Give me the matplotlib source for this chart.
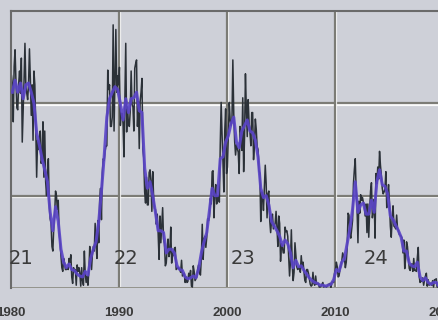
import numpy as np
import matplotlib
matplotlib.use("Agg")
import matplotlib.pyplot as plt
import matplotlib.patheffects as pe

# monthly sunspot number, one row per year (Jan..Dec), 1980-2019
monthly = [
    [230, 221, 180, 240, 258, 224, 195, 193, 221, 235, 211, 249],  # 1980
    [158, 191, 225, 265, 219, 211, 204, 221, 259, 226, 187, 220],
    [160, 235, 220, 175, 120, 160, 150, 155, 170, 135, 140, 180],
    [120, 170, 115, 100, 125, 140, 90, 75, 70, 45, 40, 65],
    [80, 105, 100, 85, 95, 60, 50, 35, 22, 18, 32, 27],
    [20, 20, 22, 20, 32, 28, 36, 12, 5, 22, 18, 20],  # 1985
    [3, 25, 18, 22, 16, 2, 22, 8, 3, 40, 15, 6],
    [13, 3, 18, 45, 38, 20, 38, 45, 40, 70, 47, 32],
    [73, 49, 94, 108, 74, 125, 140, 138, 148, 154, 154, 236],
    [215, 220, 175, 175, 185, 285, 170, 225, 280, 212, 230, 220],
    [239, 176, 189, 189, 178, 142, 202, 265, 169, 196, 177, 175],  # 1990
    [192, 235, 199, 196, 170, 238, 243, 247, 175, 202, 151, 202],
    [212, 227, 150, 141, 104, 92, 120, 90, 90, 125, 128, 116],
    [83, 126, 97, 86, 85, 69, 80, 59, 31, 78, 49, 68],
    [87, 53, 48, 24, 27, 42, 53, 34, 39, 66, 27, 39],
    [35, 43, 44, 20, 21, 22, 21, 20, 17, 30, 13, 14],  # 1995
    [16, 6, 12, 6, 7, 16, 11, 19, 2, 1, 24, 18],
    [8, 10, 12, 21, 25, 17, 14, 33, 69, 31, 53, 56],
    [44, 55, 75, 73, 77, 97, 91, 126, 127, 76, 101, 112],
    [91, 97, 100, 93, 155, 201, 166, 137, 104, 170, 194, 124],
    [131, 164, 201, 182, 176, 181, 247, 189, 159, 144, 155, 151],  # 2000
    [147, 124, 175, 166, 149, 206, 126, 164, 232, 193, 164, 204],
    [179, 169, 154, 190, 190, 139, 156, 183, 172, 153, 150, 127],
    [124, 72, 104, 99, 84, 110, 133, 113, 76, 102, 105, 73],
    [60, 74, 80, 64, 67, 70, 83, 66, 45, 78, 70, 29],
    [48, 45, 38, 38, 66, 61, 62, 56, 34, 13, 28, 63],  # 2005
    [25, 8, 17, 49, 36, 23, 20, 21, 23, 17, 35, 22],
    [28, 18, 8, 6, 20, 20, 16, 10, 4, 2, 3, 17],
    [5, 3, 13, 4, 5, 5, 1, 1, 2, 4, 6, 1],
    [2, 2, 1, 2, 4, 4, 5, 0, 6, 7, 6, 16],
    [20, 28, 23, 12, 13, 20, 24, 29, 38, 35, 32, 22],  # 2010
    [28, 43, 81, 79, 60, 54, 64, 73, 113, 128, 140, 106],
    [86, 49, 94, 81, 101, 95, 98, 93, 90, 78, 91, 60],
    [91, 55, 84, 105, 114, 76, 83, 96, 54, 124, 113, 131],
    [118, 148, 133, 122, 108, 102, 104, 107, 126, 87, 101, 112],
    [93, 67, 55, 75, 89, 67, 66, 64, 79, 64, 62, 58],  # 2015
    [57, 56, 54, 38, 52, 21, 32, 50, 45, 33, 21, 19],
    [26, 26, 18, 32, 19, 19, 18, 33, 44, 13, 6, 8],
    [7, 11, 3, 9, 13, 16, 2, 9, 3, 5, 5, 3],
    [8, 1, 9, 9, 10, 1, 1, 1, 1, 0, 1, 2],
]

# smoothed sunspot number, one row per year (four quarters)
smoothed = [
    [212, 225, 212, 222], [205, 220, 222, 212], [200, 168, 155, 140],
    [128, 115, 82, 62], [88, 72, 42, 28], [22, 26, 20, 19],
    [15, 13, 12, 18], [14, 32, 42, 50], [72, 105, 142, 185],
    [205, 212, 218, 215], [200, 182, 205, 190], [205, 206, 212, 192],
    [190, 130, 108, 115], [100, 82, 62, 62], [60, 38, 42, 42],
    [38, 24, 20, 19], [12, 10, 11, 13], [11, 21, 38, 50],
    [60, 84, 108, 100], [100, 140, 142, 158], [165, 178, 185, 158],
    [152, 170, 176, 182], [170, 168, 160, 142], [108, 98, 100, 90],
    [72, 67, 62, 56], [46, 52, 48, 38], [22, 30, 23, 24],
    [19, 15, 11, 8], [6, 5, 3, 3], [2, 3, 4, 9],
    [20, 18, 28, 32], [48, 64, 85, 115], [82, 90, 92, 80],
    [80, 95, 82, 115], [128, 112, 110, 102], [78, 74, 68, 62],
    [55, 40, 40, 27], [24, 23, 28, 12], [8, 11, 6, 4],
    [6, 6, 2, 1],
]

first_year = 1980
cycle_names = ["21", "22", "23", "24"]
cycle_x = [1980.97, 1990.65, 2001.5, 2013.8]
cycle_y = [32, 32, 32, 32]
year_ticks = [1980, 1990, 2000, 2010, 2020]

mon = np.array(monthly, dtype=float).ravel()
t_mon = first_year + (np.arange(mon.size) + 0.5) / 12
smo = np.array(smoothed, dtype=float).ravel()
t_smo = first_year + (np.arange(smo.size) + 0.5) / 4

bg = "#ced0d8"
fig = plt.figure(figsize=(4.38, 3.2), dpi=100, facecolor=bg)
ax = fig.add_axes([11 / 438, 0.1, 432 / 438, 277 / 320], facecolor=bg)

# grid drawn with a light edge to give the engraved look
emboss = [pe.SimpleLineShadow(offset=(0.9, -0.9), shadow_color="white", alpha=0.9, rho=1),
          pe.Normal()]
for yv in (100, 200):
    ax.axhline(yv, color="#7c7c76", lw=1.6, zorder=1, path_effects=emboss)
for xv in (1990, 2000, 2010):
    ax.axvline(xv, color="#7c7c76", lw=1.6, zorder=1, path_effects=emboss)
ax.axhline(0, color="#94948c", lw=1.4, zorder=1, path_effects=emboss)

ax.plot(t_mon, mon, color="#2b3138", lw=1.1, zorder=2)
ax.plot(t_smo, smo, color="#5a44c8", lw=2.2, alpha=0.9, zorder=3)

for name, xv, yv in zip(cycle_names, cycle_x, cycle_y):
    ax.text(xv, yv, name, ha="center", va="center", fontsize=14,
            family=["Liberation Sans Narrow", "DejaVu Sans"], color="#3a3a3a", zorder=4)

ax.set_xlim(1980, 2020)
ax.set_ylim(0, 300)
ax.set_xticks(year_ticks)
ax.set_xticklabels([str(y) for y in year_ticks], fontsize=9.5, fontweight="bold",
                   family=["Liberation Sans", "DejaVu Sans"], color="#3a3a3a")
ax.set_yticks([])
ax.tick_params(axis="x", length=0, pad=14)

for side in ("right", "bottom"):
    ax.spines[side].set_visible(False)
for side in ("top", "left"):
    ax.spines[side].set_color("#6a6a6a")
    ax.spines[side].set_linewidth(1.5)

fig.savefig("out.png", dpi=100, facecolor=bg)
